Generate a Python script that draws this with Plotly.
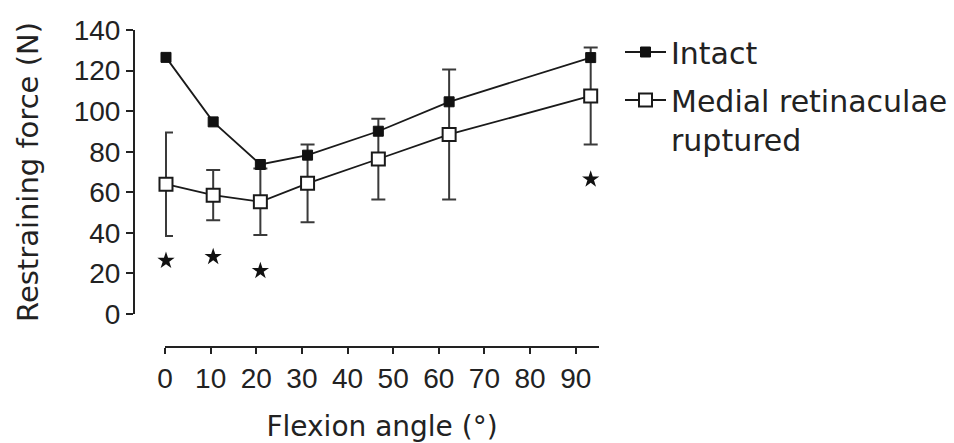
import plotly.graph_objects as go

# ---- data ----
angles = [0, 10, 20, 30, 45, 60, 90]
intact = [126.5, 94.7, 73.7, 78.3, 90.1, 104.6, 126.4]
ruptured = [64.0, 58.6, 55.3, 64.4, 76.4, 88.5, 107.5]
ruptured_err = [25.5, 12.4, 16.4, 19.2, 19.9, 32.0, 23.9]
star_angles = [0, 10, 20, 90]
star_values = [26.3, 28.2, 21.3, 66.4]
x_ticks = [0, 10, 20, 30, 40, 50, 60, 70, 80, 90]
y_ticks = [0, 20, 40, 60, 80, 100, 120, 140]

W, H = 954, 443
TXT = "#222222"
TEXT_FONT = "DejaVu Sans"
TICK_FONT = "Liberation Sans, Arial, sans-serif"

fig = go.Figure()

# empty trace so the tick-label axis (x) is instantiated
fig.add_trace(go.Scatter(x=[], y=[], xaxis="x", yaxis="y",
                         showlegend=False, hoverinfo="skip"))

fig.add_trace(go.Scatter(
    x=angles, y=ruptured, name="Medial retinaculae<br>ruptured",
    xaxis="x2", yaxis="y",
    mode="lines+markers", cliponaxis=False, legendrank=2,
    legendgroup="rup",
    line=dict(color="#1a1a1a", width=1.8),
    marker=dict(symbol="square", size=13, color="white",
                line=dict(color="#1a1a1a", width=2)),
    error_y=dict(type="data", array=ruptured_err, visible=True,
                 color="#3a3a3a", thickness=2, width=7),
))
fig.add_trace(go.Scatter(
    x=angles, y=intact, name="Intact",
    xaxis="x2", yaxis="y",
    mode="lines+markers", cliponaxis=False, legendrank=1,
    legendgroup="int",
    line=dict(color="#1a1a1a", width=1.8),
    marker=dict(symbol="square", size=10, color="#111111",
                line=dict(color="#111111", width=1)),
))
fig.add_trace(go.Scatter(
    x=star_angles, y=star_values, mode="markers", showlegend=False,
    xaxis="x2", yaxis="y",
    cliponaxis=False,
    marker=dict(symbol="star", size=13, color="#111111",
                line=dict(width=0)),
))

fig.update_layout(
    width=W, height=H,
    margin=dict(l=0, r=0, t=0, b=0),
    paper_bgcolor="white", plot_bgcolor="white",
    showlegend=True,
    legend=dict(
        x=620 / W, y=1 - 26 / H, xanchor="left", yanchor="top",
        font=dict(family=TEXT_FONT, size=30, color=TXT),
        valign="top", bgcolor="rgba(0,0,0,0)", borderwidth=0,
        traceorder="grouped", tracegroupgap=6, itemwidth=41,
    ),
    # visible axis carrying the tick labels
    xaxis=dict(
        domain=[165 / W, 599 / W],
        anchor="free", position=96 / H,
        range=[0, 95.1],
        tickmode="array", tickvals=x_ticks,
        ticktext=[str(v) for v in x_ticks],
        showline=True, linecolor="#222", linewidth=2,
        ticks="outside", ticklen=6, tickwidth=2, tickcolor="#222",
        showgrid=False, zeroline=False,
        tickfont=dict(family=TICK_FONT, size=28, color=TXT),
        title=dict(text="Flexion angle (°)", standoff=33,
                   font=dict(family=TEXT_FONT, size=28, color=TXT)),
        automargin=False,
    ),
    # data axis (the plotted points sit on a slightly wider scale in the original)
    xaxis2=dict(
        overlaying="x", anchor="y",
        range=[-0.21, 91.76],
        visible=False,
    ),
    yaxis=dict(
        domain=[(H - 314) / H, (H - 30) / H],
        anchor="free", position=134 / W,
        range=[0, 140],
        tickmode="array", tickvals=y_ticks,
        ticktext=[str(v) for v in y_ticks],
        showline=True, linecolor="#222", linewidth=2,
        ticks="outside", ticklen=7, tickwidth=2, tickcolor="#222",
        showgrid=False, zeroline=False,
        tickfont=dict(family=TICK_FONT, size=28, color=TXT),
        title=dict(text="Restraining force (N)", standoff=26,
                   font=dict(family=TEXT_FONT, size=29, color=TXT)),
        automargin=False,
    ),
)

fig.write_html("out.html")
